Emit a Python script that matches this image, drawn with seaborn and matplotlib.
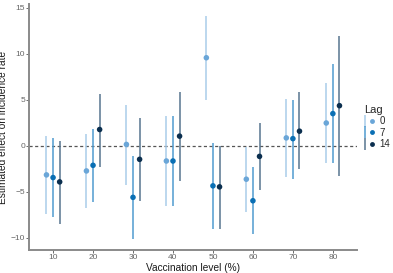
import numpy as np
import pandas as pd
import matplotlib
matplotlib.use("Agg")
import matplotlib.pyplot as plt
from matplotlib.lines import Line2D
from matplotlib.legend_handler import HandlerTuple
import seaborn as sns

# Data
levels = [10, 20, 30, 40, 50, 60, 70, 80]
lags = [0, 7, 14]

est_lag0 = [-3.16, -2.73, 0.15, -1.65, 9.57, -3.63, 0.86, 2.48]
lo_lag0 = [-7.4, -6.8, -4.27, -6.5, 4.96, -7.2, -3.38, -1.83]
hi_lag0 = [1.05, 1.23, 4.47, 3.2, 14.1, -0.14, 5.1, 6.8]

est_lag7 = [-3.45, -2.12, -5.6, -1.65, -4.35, -5.97, 0.78, 3.5]
lo_lag7 = [-7.77, -6.15, -10.1, -6.5, -9.02, -9.63, -3.56, -1.83]
hi_lag7 = [0.8, 1.84, -1.1, 3.2, 0.26, -2.3, 5.0, 8.85]

est_lag14 = [-3.92, 1.77, -1.47, 1.05, -4.46, -1.15, 1.59, 4.36]
lo_lag14 = [-8.5, -2.26, -5.97, -3.8, -9.0, -4.78, -2.55, -3.27]
hi_lag14 = [0.5, 5.65, 3.02, 5.9, -0.05, 2.48, 5.83, 11.94]

point_colors = {0: "#6aa6d8", 7: "#0a6fb4", 14: "#0b2f4f"}
bar_colors = {0: "#a9cdea", 7: "#4f9bd0", 14: "#57758f"}
offsets = {0: -1.65, 7: 0.0, 14: 1.65}

frames = []
for lag, est, lo, hi in [(0, est_lag0, lo_lag0, hi_lag0),
                         (7, est_lag7, lo_lag7, hi_lag7),
                         (14, est_lag14, lo_lag14, hi_lag14)]:
    frames.append(pd.DataFrame({"level": levels, "lag": lag,
                                "est": est, "lo": lo, "hi": hi}))
df = pd.concat(frames, ignore_index=True)
df["xpos"] = df["level"] + df["lag"].map(offsets)

sns.set_theme(style="white")
plt.rcParams["font.family"] = ["Liberation Sans", "DejaVu Sans"]

fig, ax = plt.subplots(figsize=(3.93, 2.73), dpi=100)
fig.subplots_adjust(left=0.074, right=0.908, top=0.985, bottom=0.085)

ax.axhline(0, color="#555555", linestyle=(0, (2.5, 2)), linewidth=0.9, zorder=1)

for lag in lags:
    sub = df[df["lag"] == lag]
    ax.vlines(sub["xpos"], sub["lo"], sub["hi"], color=bar_colors[lag],
              linewidth=1.1, zorder=2)

sns.scatterplot(data=df, x="xpos", y="est", hue="lag", palette=point_colors,
                s=16, linewidth=0, legend=False, ax=ax, zorder=3)

ax.set_xlim(4, 86)
ax.set_ylim(-11.3, 15.4)
ax.set_xticks([10, 20, 30, 40, 50, 60, 70, 80])
ax.set_yticks([-10, -5, 0, 5, 10, 15])
ax.set_xlabel("Vaccination level (%)", fontsize=7.3, color="#1a1a1a", labelpad=1.5)
ax.set_ylabel("Estimated effect on incidence rate", fontsize=7.3, color="#1a1a1a", labelpad=1.5)
ax.tick_params(axis="both", labelsize=6, colors="#555555", length=2, width=0.6,
               pad=1, bottom=True, left=True)
ax.tick_params(axis="both", labelcolor="#666666")

for side in ["top", "right"]:
    ax.spines[side].set_visible(False)
for side in ["left", "bottom"]:
    ax.spines[side].set_color("#8a8a8a")
    ax.spines[side].set_linewidth(1.4)

handles = []
for lag in lags:
    bar = Line2D([], [], marker="|", markersize=8, markeredgewidth=1.1,
                 linestyle="None", color=bar_colors[lag])
    pt = Line2D([], [], marker="o", markersize=3.5, linestyle="None",
                markeredgewidth=0, color=point_colors[lag])
    handles.append((bar, pt))
leg = ax.legend(handles, [str(l) for l in lags], title="Lag",
                handler_map={tuple: HandlerTuple(ndivide=None)},
                loc="center left", bbox_to_anchor=(1.0, 0.5), frameon=False,
                fontsize=7, title_fontsize=8, handlelength=1.0,
                handletextpad=0.6, labelspacing=0.15, borderaxespad=0.3)
leg._legend_box.align = "left"

fig.savefig("out.png", dpi=100)
